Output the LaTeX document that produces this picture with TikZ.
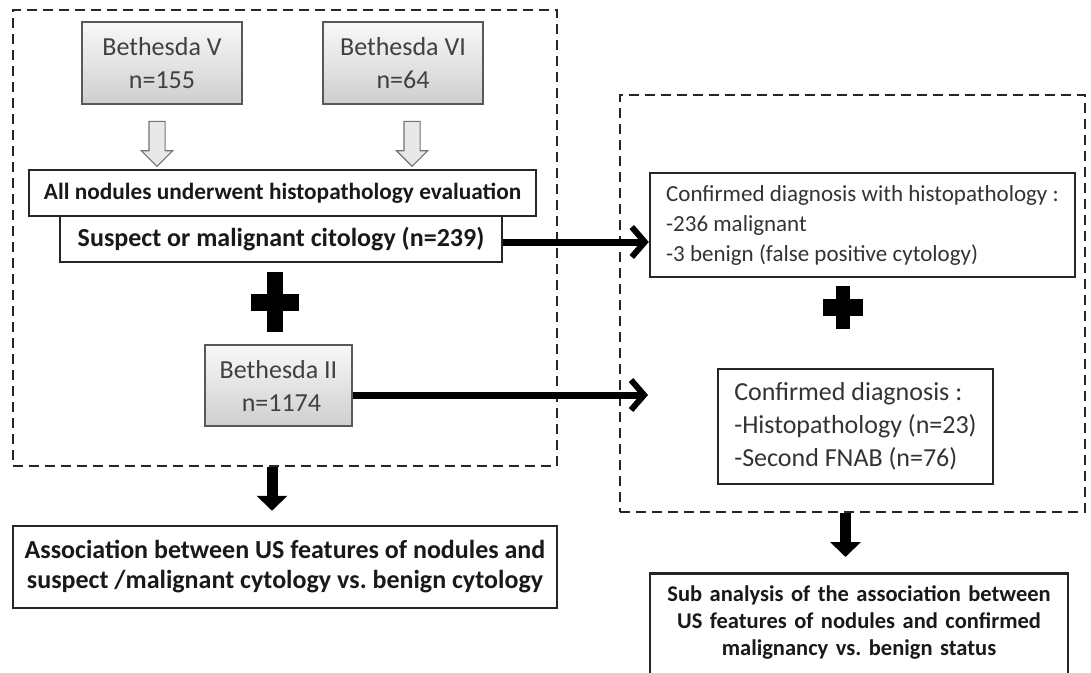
\documentclass[tikz,border=0pt]{standalone}
\usepackage{fontspec}
\setmainfont{Carlito}
\frenchspacing
\usetikzlibrary{arrows.meta,positioning,calc,shapes.arrows}

\begin{document}
\begin{tikzpicture}[
  x=1pt, y=-1pt,
  graybox/.style={draw=black!65, line width=1.5pt, top color=gray!5,
                  bottom color=gray!38, text=black!75, align=center,
                  inner sep=0pt, font=\fontsize{26}{33}\selectfont},
  plainbox/.style={draw=black!85, line width=2.5pt, fill=white, inner sep=0pt},
  dashbox/.style={draw=black!85, line width=2pt, dash pattern=on 10pt off 6pt},
  hollowarr/.style={single arrow, draw=black!55, fill=gray!18, line width=1.2pt,
                    rotate=-90, minimum height=45pt, inner xsep=0pt, inner ysep=7.5pt,
                    single arrow head extend=7.5pt},
  thickarr/.style={line width=7pt,
                   -{Straight Barb[length=13pt, width=30pt, line width=6pt]}},
  blockarr/.style={line width=11pt, -{Triangle[length=15pt, width=30pt]}},
]
\path[use as bounding box, clip] (0,0) rectangle (1091,672);

% dashed groups
\node[dashbox, minimum width=544pt, minimum height=456pt] (grpL) at (285,238) {};
\node[dashbox, minimum width=465pt, minimum height=417pt] (grpR) at (852.5,303.5) {};

% left group
\node[graybox, minimum width=160pt, minimum height=82pt] (bethV) at (162,63)
  {Bethesda V\\n=155};
\node[graybox, minimum width=160pt, minimum height=82pt] (bethVI) at (403,63)
  {Bethesda VI\\n=64};
\node[plainbox, minimum width=507pt, minimum height=46pt,
      font=\fontsize{23.3}{27}\selectfont\bfseries, text=black!90] (allnod) at (282.5,193)
  {All nodules underwent histopathology evaluation};
\node[plainbox, minimum width=442pt, minimum height=46pt,
      font=\fontsize{26}{30}\selectfont\bfseries, text=black!90] (suspect) at (281,239)
  {Suspect or malignant citology (n=239)};
\node[graybox, minimum width=147pt, minimum height=81pt] (bethII) at (278.5,385.5)
  {Bethesda II\\\ n=1174};

\node[hollowarr, anchor=tail] (arrV) at ([xshift=-5pt, yshift=-16pt]bethV.south) {};
\node[hollowarr, anchor=tail] (arrVI) at ([xshift=9pt, yshift=-16pt]bethVI.south) {};

\coordinate (plusL) at (275,302);
\fill (plusL) ++(-8,-30) rectangle ++(16,60);
\fill (plusL) ++(-24,-8.5) rectangle ++(48,17);

% right group
\node[plainbox, align=left, minimum width=425pt, minimum height=104pt,
      font=\fontsize{23}{30}\selectfont, text=black!80] (confhist) at (862.5,225)
  {Confirmed diagnosis with histopathology :\\-236 malignant\\-3 benign (false positive cytology)};
\node[plainbox, align=left, minimum width=275pt, minimum height=115pt,
      font=\fontsize{26}{33}\selectfont, text=black!80] (confdiag) at (855.5,426.5)
  {Confirmed diagnosis :\\-Histopathology (n=23)\\-Second FNAB (n=76)};

\coordinate (plusR) at (843,307);
\fill (plusR) ++(-7,-21.5) rectangle ++(14,43);
\fill (plusR) ++(-20,-8.5) rectangle ++(40,17);

% results
\node[plainbox, minimum width=544pt, minimum height=82pt, align=center,
      font=\fontsize{26}{30}\selectfont\bfseries, text=black!90] (assoc) at (285,567)
  {Association between US features of nodules and\\suspect /malignant cytology vs. benign cytology};
\node[plainbox, anchor=north, text width=418pt, align=center, inner ysep=11pt,
      text height=17pt, text depth=100pt,
      font=\fontsize{22.5}{27}\selectfont\bfseries, text=black!90] (subanal) at (859,572)
  {Sub analysis of the association between\\US features of nodules and confirmed\\malignancy vs. benign status};

% arrows
\coordinate (diagin) at (648,395);
\draw[thickarr] ([yshift=-3pt]suspect.east) -- ([yshift=-3pt]suspect.east -| confhist.west);
\draw[thickarr] (bethII.east |- diagin) -- (diagin);
\draw[blockarr, shorten >=14pt] ([xshift=-13pt]grpL.south) -- ([xshift=-13pt]grpL.south |- assoc.north);
\draw[blockarr, shorten >=15pt] ([xshift=-7pt]grpR.south) -- ([xshift=-7pt]grpR.south |- subanal.north);
\end{tikzpicture}
\end{document}
